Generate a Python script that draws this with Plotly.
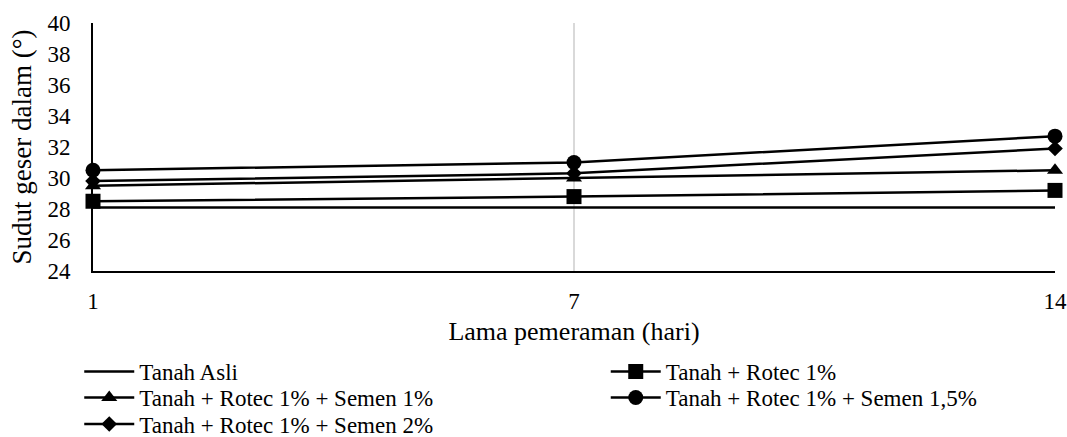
import plotly.graph_objects as go

categories = ["1", "7", "14"]
tanah_asli = [28.1, 28.1, 28.1]
rotec_1 = [28.5, 28.8, 29.2]
rotec_semen_1 = [29.5, 30.0, 30.5]
rotec_semen_15 = [30.5, 31.0, 32.7]
rotec_semen_2 = [29.8, 30.3, 31.9]

# name, values, marker symbol, marker size, legend id, legend x, legend y (paper)
series = [
    ("Tanah Asli", tanah_asli, None, 0, "legend", -0.0143, -0.405),
    ("Tanah + Rotec 1%", rotec_1, "square", 15, "legend2", 0.533, -0.405),
    ("Tanah + Rotec 1% + Semen 1%", rotec_semen_1, "triangle-up", 14, "legend3", -0.0143, -0.510),
    ("Tanah + Rotec 1% + Semen 1,5%", rotec_semen_15, "circle", 15, "legend4", 0.533, -0.510),
    ("Tanah + Rotec 1% + Semen 2%", rotec_semen_2, "diamond", 12, "legend5", -0.0143, -0.617),
]

FONT = "Liberation Serif"

fig = go.Figure()
legends = {}
for name, vals, sym, size, lg, lx, ly in series:
    if sym is None:
        fig.add_trace(go.Scatter(x=categories, y=vals, name=name, mode="lines", legend=lg,
                                 line=dict(color="black", width=2.5), cliponaxis=False))
    else:
        fig.add_trace(go.Scatter(x=categories, y=vals, name=name, mode="lines+markers", legend=lg,
                                 line=dict(color="black", width=2.5),
                                 marker=dict(symbol=sym, size=size, color="black"),
                                 cliponaxis=False))
    legends[lg] = dict(x=lx, xanchor="left", y=ly, yanchor="middle", itemwidth=50,
                       font=dict(family=FONT, size=23, color="black"),
                       bgcolor="rgba(0,0,0,0)", borderwidth=0)

fig.update_layout(
    width=1067, height=437,
    margin=dict(l=93, r=12, t=23, b=166, autoexpand=False),
    paper_bgcolor="white", plot_bgcolor="white",
    font=dict(family=FONT, size=22, color="black"),
    showlegend=True,
    xaxis=dict(type="category", range=[0, 2], showgrid=True, gridcolor="#d9d9d9", gridwidth=1.5,
               showline=True, linecolor="black", linewidth=2, ticks="", ticklabelstandoff=8,
               tickfont=dict(family=FONT, size=23), zeroline=False,
               title=dict(text="Lama pemeraman (hari)", font=dict(family=FONT, size=26), standoff=9)),
    yaxis=dict(range=[24, 40], dtick=2, showgrid=False, showline=True, linecolor="black", linewidth=2,
               ticks="", tickfont=dict(family=FONT, size=23), zeroline=False, ticklabelstandoff=16,
               title=dict(text="Sudut geser dalam (°)", font=dict(family=FONT, size=27), standoff=8)),
)
fig.update_layout(**legends)

fig.write_html("out.html",
               config={"displayModeBar": False},
               post_script="document.body.style.margin='0';document.body.style.overflow='hidden';")
